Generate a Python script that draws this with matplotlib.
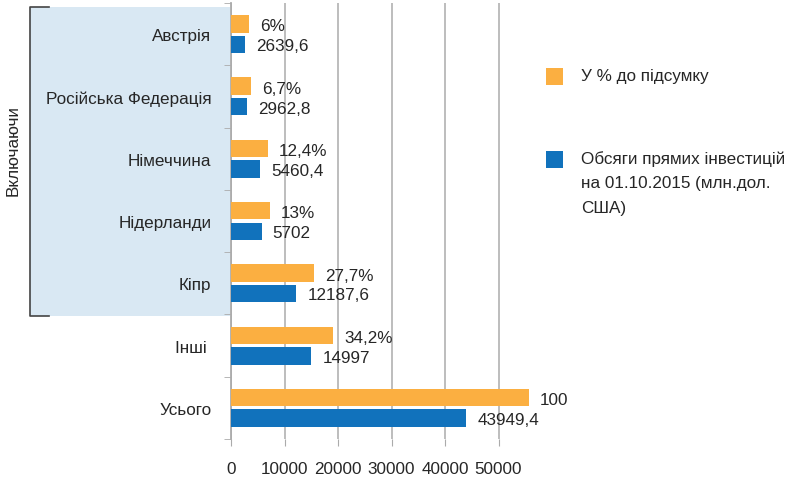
import numpy as np
import matplotlib.pyplot as plt
from matplotlib.patches import Rectangle
from matplotlib.lines import Line2D

plt.rcParams['font.family'] = ['Liberation Sans', 'DejaVu Sans']
plt.rcParams['font.size'] = 12.3

countries = ['Австрія', 'Російська Федерація', 'Німеччина', 'Нідерланди', 'Кіпр', 'Інші ', 'Усього']
volume = [2639.6, 2962.8, 5460.4, 5702, 12187.6, 14997, 43949.4]
share = [6, 6.7, 12.4, 13, 27.7, 34.2, 100]
volume_labels = ['2639,6', '2962,8', '5460,4', '5702', '12187,6', '14997', '43949,4']
share_labels = ['6%', '6,7%', '12,4%', '13%', '27,7%', '34,2%', '100']
legend_share = 'У % до підсумку'
legend_volume = 'Обсяги прямих інвестицій\nна 01.10.2015 (млн.дол.\nСША)'
xticks = [0, 10000, 20000, 30000, 40000, 50000]

orange = '#FBAF41'
blue = '#1172BC'
txt = '#262626'
grid = '#ABABAB'

W, H = 793, 481
fig = plt.figure(figsize=(W / 100, H / 100), dpi=100)

# left bracket with light blue background
fig.add_artist(Rectangle((30 / W, 1 - 317 / H), 200 / W, 309 / H, facecolor='#D9E8F3',
                         edgecolor='none', transform=fig.transFigure, zorder=0))
fig.add_artist(Line2D([49 / W, 30 / W, 30 / W, 49 / W],
                      [1 - 8 / H, 1 - 8 / H, 1 - 317 / H, 1 - 317 / H],
                      color='#444444', lw=1.2, transform=fig.transFigure))
fig.text(13 / W, 1 - 151 / H, 'Включаючи', rotation=90, ha='center', va='center', color=txt)

ax = fig.add_axes([231 / W, 1 - 440 / H, (552 - 231) / W, 436 / H])
ax.patch.set_alpha(0)
ax2 = ax.twiny()

y = np.arange(len(countries))
h = 0.28
ax.barh(y + 0.165, volume, height=h, color=blue, zorder=3)
ax2.barh(y - 0.165, share, height=h, color=orange, zorder=3)

ax.set_xlim(0, 60000)
ax2.set_xlim(0, 60000 / 557)
ax.set_ylim(len(countries) - 0.5, -0.5)
ax2.set_ylim(len(countries) - 0.5, -0.5)

for yi, v, s in zip(y, volume, volume_labels):
    ax.annotate(s, (v, yi + 0.165), xytext=(8, -1), textcoords='offset points',
                va='center', ha='left', color=txt)
for yi, v, s in zip(y, share, share_labels):
    ax2.annotate(s, (v, yi - 0.165), xytext=(8, -1.5), textcoords='offset points',
                 va='center', ha='left', color=txt)

ax.set_xticks(xticks)
ax.set_xticklabels([str(t) for t in xticks])
ax.xaxis.grid(True, color=grid, lw=1.1, zorder=0)
ax.set_axisbelow(True)
ax.tick_params(axis='x', length=5, color=grid, pad=11, labelcolor=txt)

ax.set_yticks(y)
ax.set_yticklabels(countries)
ax.set_yticks(np.arange(-0.5, len(countries)), minor=True)
ax.tick_params(axis='y', which='major', length=0, pad=14, labelcolor=txt)
ax.tick_params(axis='y', which='minor', length=5, color=grid)

for a in (ax, ax2):
    for sp in a.spines.values():
        sp.set_visible(False)
ax.spines['left'].set_visible(True)
ax.spines['left'].set_color(grid)
ax.spines['left'].set_linewidth(1.3)
ax2.set_xticks([])

# legend
fig.add_artist(Rectangle((546 / W, 1 - 86 / H), 17 / W, 17 / H, facecolor=orange,
                         edgecolor='none', transform=fig.transFigure))
fig.text(581 / W, 1 - 77 / H, legend_share, va='center', ha='left', color=txt)
fig.add_artist(Rectangle((546 / W, 1 - 169 / H), 17 / W, 17 / H, facecolor=blue,
                         edgecolor='none', transform=fig.transFigure))
fig.text(581 / W, 1 - 151 / H, legend_volume, va='top', ha='left', color=txt, linespacing=1.78)

fig.savefig('out.png', dpi=100)
